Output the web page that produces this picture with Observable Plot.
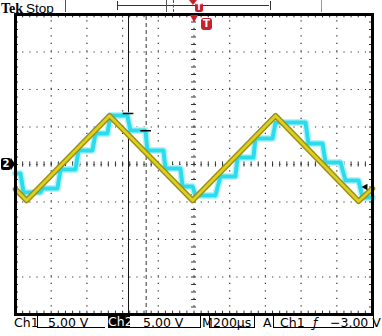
<!DOCTYPE html>
<html><head><meta charset="utf-8">
<script src="https://cdn.jsdelivr.net/npm/d3@7"></script>
<script src="https://cdn.jsdelivr.net/npm/@observablehq/plot@0.6"></script>
<style>
html,body{margin:0;padding:0;background:#fff;}
#wrap{position:relative;width:382px;height:336px;overflow:hidden;font-family:"DejaVu Sans",sans-serif;color:#000;}
#wrap svg{position:absolute;left:0;top:0;}
.a{position:absolute;white-space:nowrap;line-height:1;}
.ft{font-family:"DejaVu Sans",sans-serif;font-size:12.5px;}
</style></head><body><div id="wrap"></div>
<script>
// Time in µs from left edge of the screen (200 µs/div); voltage in V (5 V/div)
const timeRange = [0, 2000];
const voltRange = [-20, 20];
const majorTimes = [200, 400, 600, 800, 1200, 1400, 1600, 1800];
const majorVolts = [-15, -10, -5, 5, 10, 15];
const centerTime = 1000;
const centerVolt = 0;

// Ch1: triangle wave vertices
const ch1Time = [0, 62, 527, 992, 1457, 1922, 2000];
const ch1Volt = [-3.3, -4.8, 6.5, -4.8, 6.5, -4.9, -3.2];

// Ch2: staircase steps (start time, end time, level)
const stepStart = [0, 45, 151, 252, 353, 448, 532, 644, 739, 840, 936, 1008, 1148, 1244, 1344, 1457, 1641, 1737, 1849, 1944];
const stepEnd   = [28, 140, 235, 336, 431, 515, 627, 728, 829, 924, 992, 1120, 1232, 1333, 1440, 1625, 1720, 1821, 1922, 2000];
const stepLevel = [-1.2, -3.73, -3.2, -0.67, 1.87, 4.13, 6.53, 4.53, 1.87, -0.53, -2.93, -4.13, -1.6, 0.93, 3.47, 5.6, 2.8, 0.27, -2.13, -4.4];

// Cursors and their readout dashes
const cursorTime = [633, 732];
const cursorVolt = [6.8, 4.5];
const triggerLevel = -3.0;
const triggerTime = 1000;

const ch1 = ch1Time.map((t, i) => ({t, v: ch1Volt[i]}));
const ch2 = [];
stepStart.forEach((s, i) => { ch2.push({t: s, v: stepLevel[i]}); ch2.push({t: stepEnd[i], v: stepLevel[i]}); });
const cursors = cursorTime.map((t, i) => ({t, v: cursorVolt[i]}));

const minorT = d3.range(timeRange[0], timeRange[1] + 1, 40);
const minorV = d3.range(voltRange[0], voltRange[1] + 0.01, 1);

const chart = Plot.plot({
  width: 382, height: 336,
  marginLeft: 15, marginRight: 10, marginTop: 14, marginBottom: 22,
  x: {domain: timeRange, axis: null},
  y: {domain: voltRange, axis: null},
  marks: [
    Plot.ruleX(majorTimes, {y1: voltRange[0], y2: voltRange[1], stroke: "#333", strokeWidth: 1.2, strokeDasharray: "1.2,6.3"}),
    Plot.ruleY(majorVolts, {x1: timeRange[0], x2: timeRange[1], stroke: "#333", strokeWidth: 1.2, strokeDasharray: "1.2,5.94"}),
    Plot.ruleX([centerTime], {y1: voltRange[0], y2: voltRange[1], stroke: "#333", strokeWidth: 1.2, strokeDasharray: "1.2,6.3"}),
    Plot.ruleY([centerVolt], {x1: timeRange[0], x2: timeRange[1], stroke: "#333", strokeWidth: 1.2, strokeDasharray: "1.2,5.94"}),
    Plot.ruleX(minorT, {y1: centerVolt - 0.35, y2: centerVolt + 0.35, stroke: "#333"}),
    Plot.ruleY(minorV, {x1: centerTime - 14, x2: centerTime + 14, stroke: "#333"}),
    Plot.ruleX(minorT, {y1: voltRange[1], y2: voltRange[1] - 0.45, stroke: "#333"}),
    Plot.ruleX(minorT, {y1: voltRange[0], y2: voltRange[0] + 0.45, stroke: "#333"}),
    Plot.ruleY(minorV, {x1: timeRange[0], x2: timeRange[0] + 17, stroke: "#333"}),
    Plot.ruleY(minorV, {x1: timeRange[1] - 17, x2: timeRange[1], stroke: "#333"}),
    Plot.ruleX([cursorTime[0]], {y1: voltRange[0], y2: voltRange[1], stroke: "#111", strokeWidth: 1}),
    Plot.ruleX([cursorTime[1]], {y1: voltRange[0], y2: voltRange[1], stroke: "#333", strokeWidth: 1, strokeDasharray: "4,3"}),
    Plot.line(ch2, {x: "t", y: "v", stroke: "#b4f5f9", strokeWidth: 7, strokeLinejoin: "round", strokeLinecap: "round"}),
    Plot.line(ch2, {x: "t", y: "v", stroke: "#2adcee", strokeWidth: 4, strokeLinejoin: "round"}),
    Plot.line(ch1, {x: "t", y: "v", stroke: "#9c8f12", strokeWidth: 5.5, strokeLinejoin: "round"}),
    Plot.line(ch1, {x: "t", y: "v", stroke: "#ddd024", strokeWidth: 2.6, strokeLinejoin: "round"}),
    Plot.ruleY(cursors, {y: "v", x1: d => d.t - 30, x2: d => d.t + 30, stroke: "#000", strokeWidth: 1.5}),
    Plot.frame({stroke: "#000", strokeWidth: 3}),
    Plot.dot([triggerLevel], {y: d => d, frameAnchor: "right", dx: -7, symbol: "triangle2", rotate: -90, r: 3.2, fill: "#000"}),
    Plot.dot([triggerTime], {x: d => d, frameAnchor: "top", dy: 3, symbol: "triangle2", rotate: 180, r: 4, fill: "#c8202a"})
  ]
});
const wrap = document.getElementById("wrap");
wrap.appendChild(chart);

const overlay = `
<div class="a" style="left:1px;top:0px;"><b style="font-family:'Liberation Serif';font-size:14px">Tek</b><span style="font-family:'Liberation Sans';font-size:13.5px;margin-left:3px">Stop</span></div>
<div class="a" style="left:65px;top:0;width:1px;height:12px;background:#555"></div>
<div class="a" style="left:117px;top:1px;width:152px;height:9px;border-left:1px solid #333;border-right:1px solid #333"></div>
<div class="a" style="left:117px;top:5px;width:152px;height:1px;background:#333"></div>
<div class="a" style="left:166px;top:0;width:1px;height:12px;background:#555"></div>
<div class="a" style="left:173px;top:0;width:0;height:12px;border-left:1px dashed #555"></div>
<div class="a" style="left:321px;top:0;width:1px;height:12px;background:#999"></div>
<div class="a" style="left:189px;top:0;width:0;height:0;border-left:4px solid transparent;border-right:4px solid transparent;border-top:5px solid #c8202a"></div>
<div class="a" style="left:195px;top:3px;width:8px;height:9px;background:#c8202a;border-radius:2px;color:#fff;font:bold 8px 'DejaVu Sans';text-align:center;line-height:9px">T</div>
<div class="a" style="left:201px;top:18px;width:11px;height:12px;background:#c8202a;border-radius:3px;color:#fff;font:bold 10px 'DejaVu Sans';text-align:center;line-height:12px">T</div>
<div class="a" style="left:1px;top:158px;width:10px;height:12px;background:#000;border-radius:2px;color:#fff;font:bold 10px 'DejaVu Sans';text-align:center;line-height:12px">2</div>
<div class="a" style="left:11px;top:158px;width:0;height:0;border-top:6px solid transparent;border-bottom:6px solid transparent;border-left:4px solid #000"></div>
<div class="a ft" style="left:14px;top:317px">Ch1</div>
<div class="a" style="left:37px;top:316px;width:67px;height:11px;border-left:1px solid #000;border-bottom:1px solid #000"></div>
<div class="a ft" style="left:48px;top:317px">5.00 V</div>
<div class="a ft" style="left:108px;top:316px;width:22px;height:12px;background:#000;color:#fff;line-height:12px">Ch2</div>
<div class="a" style="left:130px;top:316px;width:70px;height:11px;border-bottom:1px solid #000;border-right:1px solid #000"></div>
<div class="a ft" style="left:143px;top:317px">5.00 V</div>
<div class="a ft" style="left:202px;top:317px">M</div>
<div class="a" style="left:209px;top:316px;width:44px;height:11px;border-left:1px solid #000;border-right:1px solid #000;border-bottom:1px solid #000"></div>
<div class="a ft" style="left:213px;top:317px">200µs</div>
<div class="a ft" style="left:263px;top:317px">A</div>
<div class="a" style="left:273px;top:316px;width:99px;height:11px;border-left:1px solid #000;border-right:1px solid #000;border-bottom:1px solid #000"></div>
<div class="a ft" style="left:280px;top:317px">Ch1</div>
<div class="a ft" style="left:313px;top:317px;font-style:italic">ƒ</div>
<div class="a ft" style="left:330px;top:317px">−3.00 V</div>
`;
wrap.insertAdjacentHTML("beforeend", overlay);
</script></body></html>
